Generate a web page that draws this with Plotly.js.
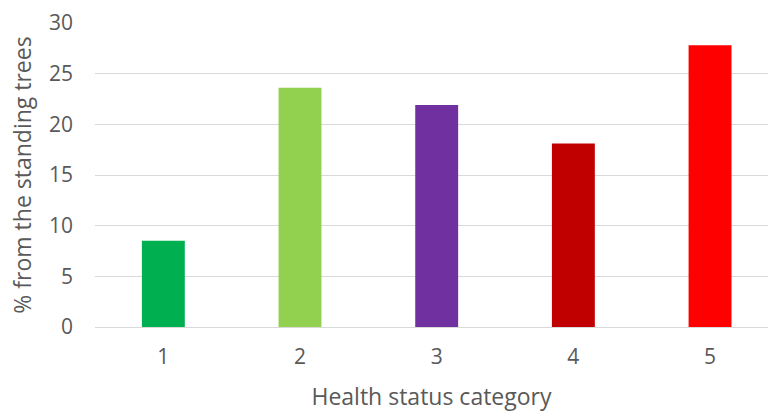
<!DOCTYPE html>
<html>
<head>
<meta charset="utf-8">
<script src="https://cdn.plot.ly/plotly-3.0.1.min.js"></script>
<style>html,body{margin:0;padding:0;background:#fff;}#chart{width:768px;height:412px;}</style>
</head>
<body>
<div id="chart"></div>
<script>
const categories = ['1', '2', '3', '4', '5'];
const values = [8.5, 23.6, 21.9, 18.1, 27.8];
const barColors = ['#00b050', '#92d050', '#7030a0', '#c00000', '#ff0000'];
const yTicks = [0, 5, 10, 15, 20, 25, 30];

const fontFam = 'Open Sans, Noto Sans, sans-serif';
const textColor = '#595959';

Plotly.newPlot('chart', [{
  type: 'bar',
  x: categories,
  y: values,
  marker: {color: barColors, line: {width: 0}},
  hoverinfo: 'x+y'
}], {
  width: 768,
  height: 412,
  margin: {l: 95, r: 0, t: 23, b: 85},
  paper_bgcolor: '#ffffff',
  plot_bgcolor: '#ffffff',
  bargap: 0.686,
  showlegend: false,
  font: {family: fontFam, color: textColor, size: 22},
  xaxis: {
    type: 'category',
    range: [-0.5, 4.424],
    showgrid: false,
    showline: false,
    zeroline: false,
    ticks: '',
    ticklabelstandoff: 15,
    tickfont: {family: fontFam, size: 21, color: textColor},
    title: {text: 'Health status category', font: {family: fontFam, size: 23, color: textColor}, standoff: 20}
  },
  yaxis: {
    range: [0, 30],
    tickvals: yTicks,
    ticktext: yTicks.map(String),
    showgrid: true,
    gridcolor: '#d9d9d9',
    gridwidth: 1,
    zeroline: true,
    zerolinecolor: '#d9d9d9',
    zerolinewidth: 1,
    showline: false,
    ticks: '',
    ticklabelstandoff: 21,
    tickfont: {family: fontFam, size: 21, color: textColor},
    title: {text: '% from the standing trees', font: {family: fontFam, size: 23, color: textColor}, standoff: 10}
  }
}, {displayModeBar: false, staticPlot: true});
</script>
</body>
</html>
